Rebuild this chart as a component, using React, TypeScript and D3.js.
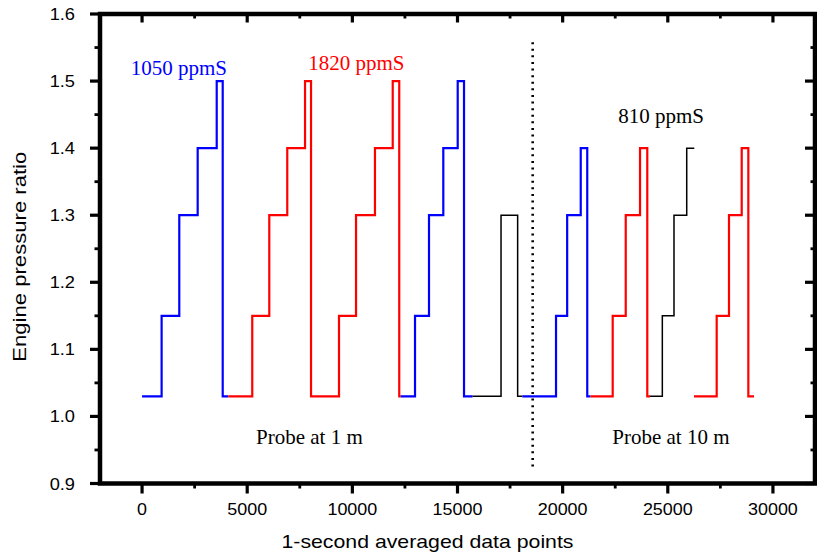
import React from "react";
import * as d3 from "d3";

// ---- data (x = 1-second averaged data points, y = engine pressure ratio) ----
const blue1X = [0, 930, 1770, 2645, 3550, 3835, 4100];
const blue1Y = [1.03, 1.15, 1.3, 1.4, 1.5, 1.03];

const red1X = [4100, 5240, 6050, 6905, 7750, 8035, 9365, 10175, 11075, 11920, 12230, 12300];
const red1Y = [1.03, 1.15, 1.3, 1.4, 1.5, 1.03, 1.15, 1.3, 1.4, 1.5, 1.03];

const blue2X = [12300, 12980, 13645, 14325, 15010, 15310, 15720];
const blue2Y = [1.03, 1.15, 1.3, 1.4, 1.5, 1.03];

const black1X = [15720, 17070, 17860, 18080];
const black1Y = [1.03, 1.3, 1.03];

const blue3X = [18080, 19685, 20215, 20860, 21170, 21325];
const blue3Y = [1.03, 1.15, 1.3, 1.4, 1.03];

const red3X = [21325, 22380, 23000, 23680, 24025, 24155];
const red3Y = [1.03, 1.15, 1.3, 1.4, 1.03];

const black2X = [24155, 24740, 25295, 25900, 26260];
const black2Y = [1.03, 1.15, 1.3, 1.4];

const red4X = [26245, 27325, 27910, 28515, 28830, 29100];
const red4Y = [1.03, 1.15, 1.3, 1.4, 1.03];

const dividerX = 18575;
const dividerY = [0.922, 1.558];

const xMajorTicks = [0, 5000, 10000, 15000, 20000, 25000, 30000];
const xMinorTicks = [2500, 7500, 12500, 17500, 22500, 27500];
const yMajorTicks = [0.9, 1.0, 1.1, 1.2, 1.3, 1.4, 1.5, 1.6];
const yMinorTicks = [0.95, 1.05, 1.15, 1.25, 1.35, 1.45, 1.55];

const labelTexts = ["1050 ppmS", "1820 ppmS", "810 ppmS", "Probe at 1 m", "Probe at 10 m"];
const labelX = [-540, 7905, 22645, 5418, 22360];
const labelY = [1.509, 1.5165, 1.4375, 0.959, 0.959];
const labelColors = ["#0000ff", "#ff0000", "#000000", "#000000", "#000000"];

const series = [
  { xs: blue1X, ys: blue1Y, color: "#0000ff", w: 2.2 },
  { xs: red1X, ys: red1Y, color: "#ff0000", w: 2.2 },
  { xs: blue2X, ys: blue2Y, color: "#0000ff", w: 2.2 },
  { xs: black1X, ys: black1Y, color: "#000000", w: 1.5 },
  { xs: blue3X, ys: blue3Y, color: "#0000ff", w: 2.2 },
  { xs: red3X, ys: red3Y, color: "#ff0000", w: 2.2 },
  { xs: black2X, ys: black2Y, color: "#000000", w: 1.5 },
  { xs: red4X, ys: red4Y, color: "#ff0000", w: 2.2 },
];

const W = 817;
const H = 558;
const X0 = 100, X1 = 815, Y0 = 14, Y1 = 483.5;

export default function App() {
  const x = d3.scaleLinear().domain([-2000, 32000]).range([X0, X1]);
  const y = d3.scaleLinear().domain([0.9, 1.6]).range([Y1, Y0]);

  const line = d3
    .line<[number, number]>()
    .x((d) => x(d[0]))
    .y((d) => y(d[1]))
    .curve(d3.curveStepAfter);

  const pathFor = (xs: number[], ys: number[]) => {
    const pts: [number, number][] = ys.map((v, i) => [xs[i], v]);
    pts.push([xs[xs.length - 1], ys[ys.length - 1]]);
    return line(pts) || "";
  };

  const sans = "'Liberation Sans', Arial, sans-serif";
  const serif = "'Liberation Serif', 'Times New Roman', serif";
  const axisW = 4.5;

  return (
    <svg
      width={W}
      height={H}
      style={{ position: "absolute", left: 0, top: 0, background: "#fff" }}
    >
      <rect x={0} y={0} width={W} height={H} fill="#fff" />

      {/* data */}
      {series.map((s, i) => (
        <path
          key={i}
          d={pathFor(s.xs, s.ys)}
          fill="none"
          stroke={s.color}
          strokeWidth={s.w}
          strokeLinejoin="miter"
        />
      ))}

      {/* divider */}
      <line
        x1={x(dividerX)}
        x2={x(dividerX)}
        y1={y(dividerY[1])}
        y2={y(dividerY[0])}
        stroke="#000"
        strokeWidth={2.6}
        strokeDasharray="2 4.6"
      />

      {/* annotations */}
      {labelTexts.map((t, i) => (
        <text
          key={t}
          x={x(labelX[i])}
          y={y(labelY[i])}
          fill={labelColors[i]}
          fontFamily={serif}
          fontSize={21}
        >
          {t}
        </text>
      ))}

      {/* frame */}
      <rect
        x={X0}
        y={Y0}
        width={X1 - X0}
        height={Y1 - Y0}
        fill="none"
        stroke="#000"
        strokeWidth={axisW}
      />

      {/* x ticks */}
      {xMajorTicks.map((t) => (
        <g key={"xM" + t}>
          <line x1={x(t)} x2={x(t)} y1={Y1} y2={Y1 + 10} stroke="#000" strokeWidth={3.2} />
          <line x1={x(t)} x2={x(t)} y1={Y0} y2={Y0 + 8.5} stroke="#000" strokeWidth={3.2} />
          <text
            transform={`translate(${x(t)},515) scale(1.12,1)`}
            textAnchor="middle"
            fontFamily={sans}
            fontSize={16}
            fill="#000"
          >
            {t}
          </text>
        </g>
      ))}
      {xMinorTicks.map((t) => (
        <g key={"xm" + t}>
          <line x1={x(t)} x2={x(t)} y1={Y1} y2={Y1 + 5} stroke="#000" strokeWidth={2.8} />
          <line x1={x(t)} x2={x(t)} y1={Y0} y2={Y0 + 4.5} stroke="#000" strokeWidth={2.8} />
        </g>
      ))}

      {/* y ticks */}
      {yMajorTicks.map((t) => (
        <g key={"yM" + t}>
          <line x1={X0 - 10} x2={X0} y1={y(t)} y2={y(t)} stroke="#000" strokeWidth={3.2} />
          <line x1={X1 - 10} x2={X1} y1={y(t)} y2={y(t)} stroke="#000" strokeWidth={3.2} />
          <text
            transform={`translate(75,${y(t) + 6}) scale(1.14,1)`}
            textAnchor="end"
            fontFamily={sans}
            fontSize={16}
            fill="#000"
          >
            {d3.format(".1f")(t)}
          </text>
        </g>
      ))}
      {yMinorTicks.map((t) => (
        <g key={"ym" + t}>
          <line x1={X0 - 5.5} x2={X0} y1={y(t)} y2={y(t)} stroke="#000" strokeWidth={2.8} />
          <line x1={X1 - 4.5} x2={X1} y1={y(t)} y2={y(t)} stroke="#000" strokeWidth={2.8} />
        </g>
      ))}

      {/* axis titles */}
      <text
        x={427.5}
        y={548}
        textAnchor="middle"
        fontFamily={sans}
        fontSize={19}
        textLength={292}
        lengthAdjust="spacingAndGlyphs"
        fill="#000"
      >
        1-second averaged data points
      </text>
      <text
        transform={`translate(26,256.7) rotate(-90)`}
        textAnchor="middle"
        fontFamily={sans}
        fontSize={19}
        textLength={210}
        lengthAdjust="spacingAndGlyphs"
        fill="#000"
      >
        Engine pressure ratio
      </text>
    </svg>
  );
}
